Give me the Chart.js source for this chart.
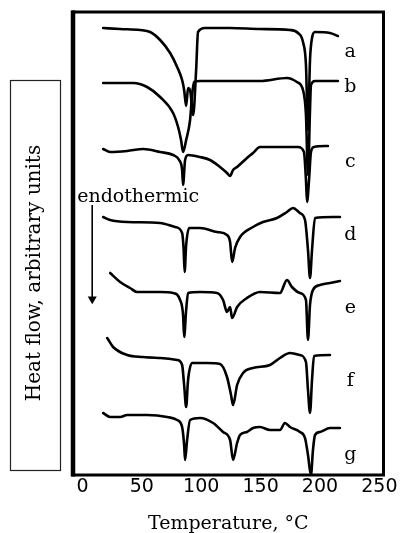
<!DOCTYPE html>
<html><head><meta charset="utf-8">
<script src="https://cdn.jsdelivr.net/npm/chart.js@4.4.0/dist/chart.umd.min.js"></script>
<style>html,body{margin:0;padding:0;background:#fff;}canvas{display:block;}</style>
</head><body>
<canvas id="c" width="403" height="533"></canvas>
<script>
// ---- data (temperature in °C, heat flow in arbitrary units, curves offset vertically) ----
const xTicks = [0, 50, 100, 150, 200, 250];
const curveLabels = ['a', 'b', 'c', 'd', 'e', 'f', 'g'];

const aT = [17.4, 31.7, 48.5, 57.0, 65.4, 73.8, 79.7, 83.9, 85.6, 87.3, 88.9, 90.6, 93.2, 95.7, 97.3, 103.2, 124.3, 149.5, 174.7, 181.5, 185.7, 188.2, 189.9, 191.6, 193.3, 195.8, 208.4, 215.1];
const aH = [447, 446, 445, 443, 435, 422, 408, 395, 385, 369, 387, 385, 360, 405, 443, 447, 447, 446, 445, 442, 433, 410, 345, 415, 437, 443, 442, 439];

const bT = [17.4, 42.7, 54.4, 65.4, 76.3, 80.5, 83.0, 84.7, 87.3, 90.6, 92.3, 94.0, 99.0, 149.5, 172.2, 180.6, 185.7, 188.2, 189.9, 191.6, 192.4, 195.8, 215.1];
const bH = [392, 392, 388, 378, 362, 348, 335, 323, 335, 355, 380, 393, 394, 394, 397, 393, 385, 360, 300, 365, 390, 394, 394];

const cT = [17.4, 23.3, 37.6, 51.1, 65.4, 76.3, 81.4, 83.9, 84.7, 86.4, 88.9, 99.0, 107.4, 115.8, 121.7, 124.3, 126.8, 130.2, 138.5, 143.6, 149.5, 181.5, 186.5, 188.2, 189.1, 190.8, 192.4, 195.0, 206.7];
const cH = [326, 323, 324, 326, 323, 320, 315, 305, 290, 315, 320, 318, 315, 308, 302, 299, 305, 308, 317, 322, 328, 328, 323, 295, 273, 295, 323, 328, 329];

const dT = [17.4, 23.3, 37.6, 65.4, 78.0, 83.9, 85.2, 86.0, 87.3, 89.8, 99.0, 113.3, 121.7, 124.3, 126.0, 128.5, 132.7, 143.6, 152.0, 163.8, 172.2, 177.3, 183.1, 187.4, 189.9, 191.6, 193.3, 195.8, 210.9, 216.8];
const dH = [258, 255, 253, 252, 248, 242, 225, 203, 230, 247, 247, 243, 240, 233, 213, 227, 238, 248, 253, 257, 263, 267, 262, 255, 225, 197, 225, 257, 258, 258];

const eT = [23.3, 31.7, 40.1, 46.0, 65.4, 76.3, 82.2, 84.7, 85.6, 87.3, 88.9, 99.0, 113.3, 118.4, 121.7, 124.3, 126.0, 130.2, 138.5, 149.5, 166.3, 172.2, 176.4, 183.1, 188.2, 189.9, 191.6, 194.1, 200.0, 208.4, 216.8];
const eH = [202, 193, 187, 183, 183, 182, 175, 160, 138, 165, 182, 183, 182, 175, 163, 168, 157, 168, 177, 183, 182, 195, 188, 182, 175, 135, 170, 185, 190, 192, 194];

const fT = [20.8, 25.8, 37.6, 51.1, 65.4, 79.7, 83.9, 85.6, 87.3, 88.9, 92.3, 104.9, 115.8, 121.7, 125.1, 126.8, 130.2, 135.2, 143.6, 157.9, 166.3, 174.7, 183.1, 188.2, 189.9, 191.6, 193.3, 195.0, 208.4];
const fH = [137, 128, 120, 118, 117, 115, 110, 90, 68, 95, 112, 112, 111, 98, 80, 70, 90, 102, 107, 110, 117, 122, 120, 113, 85, 62, 95, 119, 120];

const gT = [17.4, 23.3, 31.7, 37.6, 54.4, 71.3, 79.7, 83.9, 85.6, 86.4, 88.1, 90.6, 99.0, 110.0, 118.4, 124.3, 126.8, 130.2, 132.7, 138.5, 143.6, 149.5, 157.9, 166.3, 170.5, 174.7, 183.1, 187.4, 189.9, 192.4, 194.1, 195.8, 200.0, 208.4, 216.8];
const gH = [62, 58, 58, 60, 60, 58, 55, 48, 30, 15, 35, 55, 57, 52, 43, 35, 15, 32, 40, 43, 47, 48, 45, 45, 52, 48, 43, 37, 20, 0, 25, 40, 43, 47, 47];

const labelT = 225.5;
const labelH = [418, 383, 308, 235, 162, 89, 15];

const endoText = 'endothermic';
const endoT = -4.5;
const endoH = 273;
const arrowT = [8.2, 8.2];
const arrowH = [270, 176];

const xTitle = 'Temperature, °C';
const yTitle = 'Heat flow, arbitrary units';

// ---- build ----
const seriesT = [aT, bT, cT, dT, eT, fT, gT];
const seriesH = [aH, bH, cH, dH, eH, fH, gH];
const toPts = (T, H) => T.map((t, i) => ({x: t, y: H[i]}));

const datasets = seriesT.map((T, k) => ({
  label: curveLabels[k],
  data: toPts(T, seriesH[k]),
  borderColor: '#000',
  borderWidth: 2.6,
  pointRadius: 0,
  showLine: true,
  cubicInterpolationMode: 'monotone',
  borderJoinStyle: 'round',
  borderCapStyle: 'round'
}));
datasets.push({
  label: 'arrow',
  data: toPts(arrowT, arrowH),
  borderColor: '#000',
  backgroundColor: '#000',
  borderWidth: 1,
  showLine: true,
  pointStyle: 'triangle',
  pointRadius: [0, 5.2],
  pointRotation: [0, 180],
  pointBorderWidth: 0
});

const decor = {
  id: 'decor',
  afterDraw(chart) {
    const {ctx, chartArea: a, scales: {x, y}} = chart;
    ctx.save();
    // frame
    ctx.strokeStyle = '#000';
    ctx.lineWidth = 3;
    ctx.strokeRect(a.left, a.top, a.right - a.left, a.bottom - a.top);
    ctx.lineWidth = 4.5;
    ctx.beginPath(); ctx.moveTo(a.left, a.top - 1.5); ctx.lineTo(a.left, a.bottom + 1.5); ctx.stroke();
    // curve labels
    ctx.fillStyle = '#000';
    ctx.font = '19px "DejaVu Serif"';
    ctx.textAlign = 'center';
    ctx.textBaseline = 'alphabetic';
    curveLabels.forEach((l, i) => ctx.fillText(l, x.getPixelForValue(labelT), y.getPixelForValue(labelH[i])));
    // endothermic
    ctx.textAlign = 'left';
    ctx.fillText(endoText, x.getPixelForValue(endoT), y.getPixelForValue(endoH));
    // y title in a box
    ctx.lineWidth = 1.2;
    ctx.strokeStyle = '#222';
    ctx.strokeRect(10.5, 80.5, 50, 390);
    ctx.font = '20px "DejaVu Serif"';
    ctx.translate(35, 273);
    ctx.rotate(-Math.PI / 2);
    ctx.textAlign = 'center';
    ctx.textBaseline = 'middle';
    ctx.fillText(yTitle, 0, 0);
    ctx.restore();
  }
};

new Chart(document.getElementById('c'), {
  type: 'scatter',
  data: {datasets},
  options: {
    responsive: false,
    animation: false,
    devicePixelRatio: 1,
    layout: {padding: {left: 73, top: 12, right: 19.5, bottom: 0}},
    plugins: {legend: {display: false}, tooltip: {enabled: false}},
    scales: {
      x: {
        type: 'linear', min: -8, max: 253.5,
        afterBuildTicks: s => { s.ticks = xTicks.map(v => ({value: v})); },
        afterFit: s => { s.height = 58; },
        ticks: {font: {family: 'DejaVu Sans', size: 19}, color: '#000', padding: 1, maxRotation: 0, autoSkip: false},
        grid: {display: false, drawTicks: false},
        border: {display: false},
        title: {display: true, text: xTitle, color: '#000', font: {family: 'DejaVu Serif', size: 19}, padding: {top: 0, bottom: -2}}
      },
      y: {type: 'linear', min: 0, max: 463, display: false}
    }
  },
  plugins: [decor]
});
</script>
</body></html>
